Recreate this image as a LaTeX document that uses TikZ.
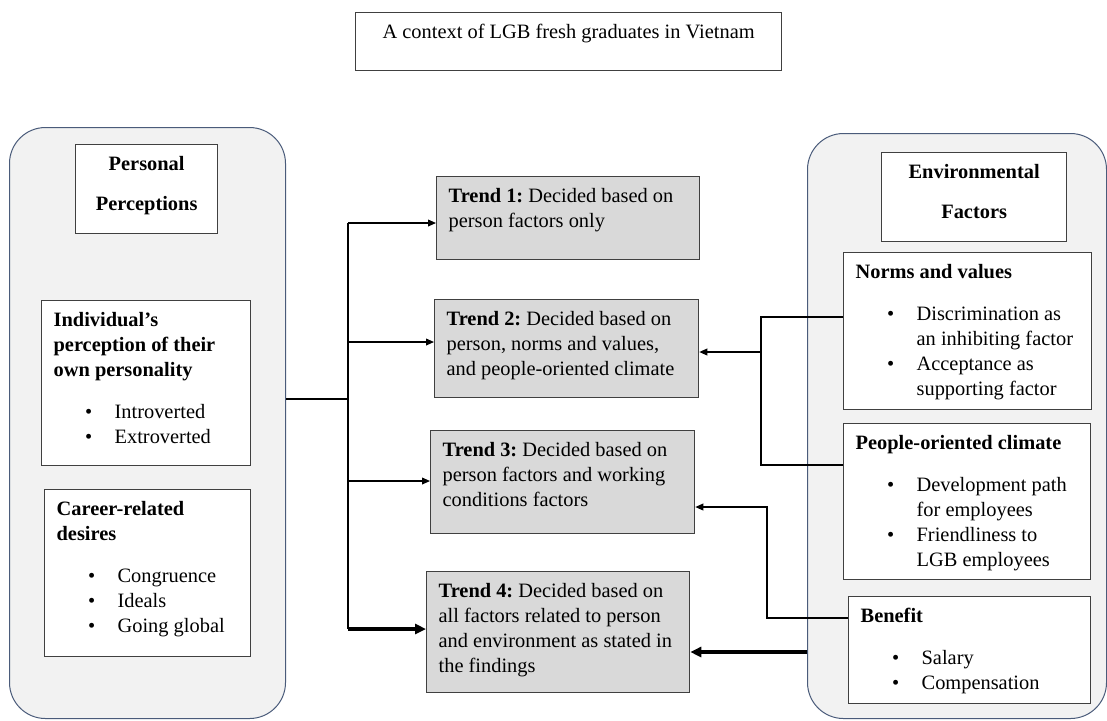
\documentclass[tikz,border=0pt]{standalone}
\usepackage{fontspec}
\setmainfont{Liberation Serif}
\usetikzlibrary{arrows.meta}
\frenchspacing

\definecolor{contline}{HTML}{4A5B7A}
\definecolor{contfill}{HTML}{F2F2F2}
\definecolor{trendfill}{HTML}{D9D9D9}
\definecolor{boxline}{HTML}{404040}

% box body: width and height in px of the reference, text from the top
\newcommand{\bx}[4][\raggedright]{\parbox[t][\dimexpr#3pt*1/2-8.5pt\relax][t]{\dimexpr#2pt*1/2-12pt\relax}{#1\strut#4}}
\newcommand{\itm}[1]{\hspace*{15.7pt}\makebox[14.8pt][l]{\textbullet}#1}
\newcommand{\itmc}[1]{\hspace*{30.5pt}#1}

\begin{document}
\begin{tikzpicture}[
		x=0.5pt, y=-0.5pt,
		font=\fontsize{10.2}{12.5}\selectfont,
		container/.style = {draw=contline, fill=contfill, line width=0.5pt, rounded corners=18pt, inner sep=0pt, anchor=north west},
		whitebox/.style = {draw=boxline, fill=white, line width=0.65pt, inner xsep=6pt, inner ysep=4.25pt, anchor=north west},
		trend/.style = {whitebox, fill=trendfill},
		link/.style = {line width=0.6pt},
		arr/.style = {link, -{Triangle[length=4pt,width=3.4pt]}},
		heavyarr/.style = {line width=1.6pt, -{Triangle[length=5.5pt,width=5pt]}}
	]
	\useasboundingbox (0,0) rectangle (1107,720);

	\node (title) [whitebox] at (355,12) {\bx[\centering]{426}{58}{A context of LGB fresh graduates in Vietnam}};

	% the two groups
	\node (persCont) [container, minimum width=138pt, minimum height=295.5pt] at (9,127) {};
	\node (envCont) [container, minimum width=149.5pt, minimum height=292.5pt] at (807,133) {};

	\node (persHead) [whitebox] at (75,144) {\bx[\centering]{142}{89}{\textbf{Personal}\\[7.5pt]\textbf{Perceptions}}};
	\node (personality) [whitebox] at (41,300) {\bx{209}{165}{\textbf{Individual’s}\\\textbf{perception of their}\\\textbf{own personality}\\[8.5pt]\itm{Introverted}\\\itm{Extroverted}}};
	\node (desires) [whitebox] at (44,489) {\bx{206}{167}{\textbf{Career-related}\\\textbf{desires}\\[8.5pt]\itm{Congruence}\\\itm{Ideals}\\\itm{Going global}}};

	\node (envHead) [whitebox] at (881,152) {\bx[\centering]{185}{89}{\textbf{Environmental}\\[7.5pt]\textbf{Factors}}};
	\node (norms) [whitebox] at (843,252) {\bx{248}{157}{\textbf{Norms and values}\\[8.5pt]\itm{Discrimination as}\\\itmc{an inhibiting factor}\\\itm{Acceptance as}\\\itmc{supporting factor}}};
	\node (people) [whitebox] at (843,423) {\bx{247}{156}{\textbf{People-oriented climate}\\[8.5pt]\itm{Development path}\\\itmc{for employees}\\\itm{Friendliness to}\\\itmc{LGB employees}}};
	\node (benefit) [whitebox] at (848,596) {\bx{242}{107}{\textbf{Benefit}\\[8.5pt]\itm{Salary}\\\itm{Compensation}}};

	% trends
	\node (trendA) [trend] at (436,176) {\bx{263}{83}{\textbf{Trend 1:} Decided based on\\person factors only}};
	\node (trendB) [trend] at (434,299) {\bx{264}{98}{\textbf{Trend 2:} Decided based on\\person, norms and values,\\and people-oriented climate}};
	\node (trendC) [trend] at (430,430) {\bx{264}{103}{\textbf{Trend 3:} Decided based on\\person factors and working\\conditions factors}};
	\node (trendD) [trend] at (426,571) {\bx{263}{121}{\textbf{Trend 4:} Decided based on\\all factors related to person\\and environment as stated in\\the findings}};

	% left bus
	\coordinate (busA) at (348,223);
	\coordinate (busB) at (348,342);
	\coordinate (busC) at (348,481);
	\coordinate (busD) at (348,629);
	\coordinate (busMid) at (348,399);
	\draw [line width=1pt] (persCont.east |- busMid) -- (busMid);
	\draw [link] (busA) -- (busD);
	\draw [arr] (busA) -- (busA -| trendA.west);
	\draw [arr] (busB) -- (busB -| trendB.west);
	\draw [arr] (busC) -- (busC -| trendC.west);
	\draw [heavyarr] (busD) -- (busD -| trendD.west);

	% right side
	\coordinate (nvTop) at (761,317);
	\coordinate (nvBot) at (761,465);
	\coordinate (nvOut) at (761,352);
	\draw [link] (nvTop -| norms.west) -- (nvTop) -- (nvBot) -- (nvBot -| people.west);
	\draw [arr] (nvOut) -- (nvOut -| trendB.east);
	\coordinate (bnIn) at (767,618);
	\coordinate (bnOut) at (767,507);
	\draw [arr] (bnIn -| benefit.west) -- (bnIn) -- (bnOut) -- (bnOut -| trendC.east);
	\coordinate (envOut) at (807,652);
	\draw [heavyarr] (envOut -| envCont.west) -- (envOut -| trendD.east);
\end{tikzpicture}
\end{document}
